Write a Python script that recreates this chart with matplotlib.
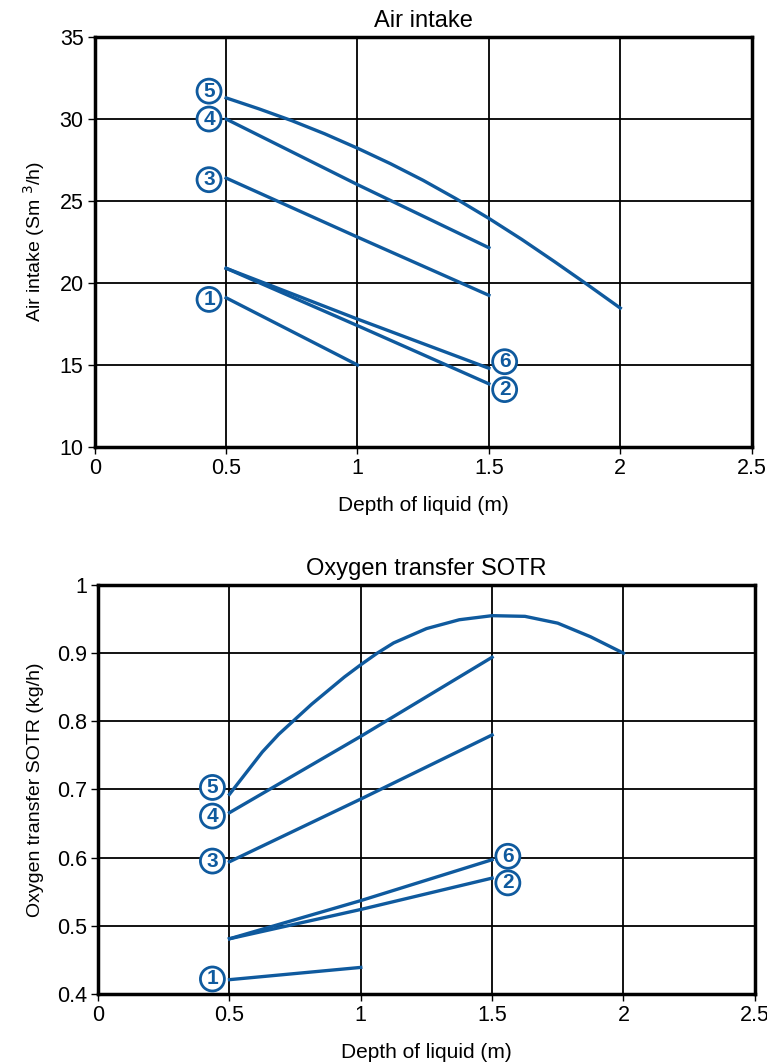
import matplotlib
matplotlib.use('Agg')
import matplotlib.pyplot as plt

plt.rcParams['font.family'] = ['Liberation Sans', 'DejaVu Sans']

blue = '#0f5a9e'

# depth of liquid (m)
depth_short = [0.5, 1.0]
depth_mid = [0.5, 1.0, 1.5]
depth_curve = [0.5, 0.625, 0.75, 0.875, 1.0, 1.125, 1.25, 1.375, 1.5, 1.625, 1.75, 1.875, 2.0]
depth_curve2 = [0.5, 0.5625, 0.625, 0.6875, 0.75, 0.8125, 0.875, 0.9375, 1.0, 1.0625,
                1.125, 1.25, 1.375, 1.5, 1.625, 1.75, 1.875, 2.0]

# air intake (Sm3/h)
air_1 = [19.1, 15.0]
air_2 = [20.9, 17.4, 13.85]
air_3 = [26.4, 22.8, 19.25]
air_4 = [30.0, 26.0, 22.15]
air_5 = [31.29, 30.62, 29.90, 29.10, 28.22, 27.28, 26.26, 25.14, 23.94, 22.66, 21.30, 19.90, 18.47]
air_6 = [20.9, 17.8, 14.8]

# oxygen transfer SOTR (kg/h)
sotr_1 = [0.421, 0.439]
sotr_2 = [0.481, 0.524, 0.570]
sotr_3 = [0.594, 0.686, 0.780]
sotr_4 = [0.666, 0.778, 0.894]
sotr_5 = [0.693, 0.724, 0.755, 0.781, 0.803, 0.825, 0.845, 0.865, 0.883, 0.900,
          0.915, 0.936, 0.949, 0.955, 0.954, 0.944, 0.924, 0.900]
sotr_6 = [0.481, 0.537, 0.597]

# circled label positions (number, x, y)
air_labels = [('1', 0.435, 19.0), ('3', 0.435, 26.3), ('4', 0.435, 30.0),
              ('5', 0.435, 31.7), ('6', 1.56, 15.2), ('2', 1.56, 13.5)]
sotr_labels = [('1', 0.435, 0.422), ('3', 0.435, 0.595), ('4', 0.435, 0.661),
               ('5', 0.435, 0.703), ('6', 1.56, 0.602), ('2', 1.56, 0.563)]

fig = plt.figure(figsize=(7.67, 10.64), dpi=100)
ax1 = fig.add_axes([0.1235, 0.5799, 0.8565, 0.3853])
ax2 = fig.add_axes([0.128, 0.0658, 0.856, 0.3844])


def style(ax, title, ylabel):
    ax.grid(True, color='black', linewidth=1.3)
    ax.set_axisbelow(True)
    for s in ax.spines.values():
        s.set_linewidth(2.5)
    ax.tick_params(labelsize=15.5, length=5, width=1, direction='out', pad=3)
    ax.set_title(title, fontsize=17, pad=7)
    ax.set_xlabel('Depth of liquid (m)', fontsize=15, labelpad=12)
    ax.set_ylabel(ylabel, fontsize=14, labelpad=9)
    ax.set_xlim(0, 2.5)
    ax.set_xticks([0, 0.5, 1, 1.5, 2, 2.5])
    ax.set_xticklabels(['0', '0.5', '1', '1.5', '2', '2.5'])


def circled(ax, labels):
    for num, x, y in labels:
        ax.text(x, y, num, color=blue, fontsize=15, fontweight='bold',
                ha='center', va='center', zorder=5,
                bbox=dict(boxstyle='circle,pad=0.12', fc='white', ec=blue, lw=2))


lw = 2.4
ax1.plot(depth_short, air_1, color=blue, lw=lw)
ax1.plot(depth_mid, air_2, color=blue, lw=lw)
ax1.plot(depth_mid, air_3, color=blue, lw=lw)
ax1.plot(depth_mid, air_4, color=blue, lw=lw)
ax1.plot(depth_curve, air_5, color=blue, lw=lw)
ax1.plot(depth_mid, air_6, color=blue, lw=lw)
style(ax1, 'Air intake', 'Air intake (Sm $^{3}$/h)')
ax1.set_ylim(10, 35)
ax1.set_yticks([10, 15, 20, 25, 30, 35])
circled(ax1, air_labels)

ax2.plot(depth_short, sotr_1, color=blue, lw=lw)
ax2.plot(depth_mid, sotr_2, color=blue, lw=lw)
ax2.plot(depth_mid, sotr_3, color=blue, lw=lw)
ax2.plot(depth_mid, sotr_4, color=blue, lw=lw)
ax2.plot(depth_curve2, sotr_5, color=blue, lw=lw)
ax2.plot(depth_mid, sotr_6, color=blue, lw=lw)
style(ax2, 'Oxygen transfer SOTR', 'Oxygen transfer SOTR (kg/h)')
ax2.set_ylim(0.4, 1.0)
ax2.set_yticks([0.4, 0.5, 0.6, 0.7, 0.8, 0.9, 1.0])
ax2.set_yticklabels(['0.4', '0.5', '0.6', '0.7', '0.8', '0.9', '1'])
circled(ax2, sotr_labels)

fig.savefig('out.png', dpi=100)
